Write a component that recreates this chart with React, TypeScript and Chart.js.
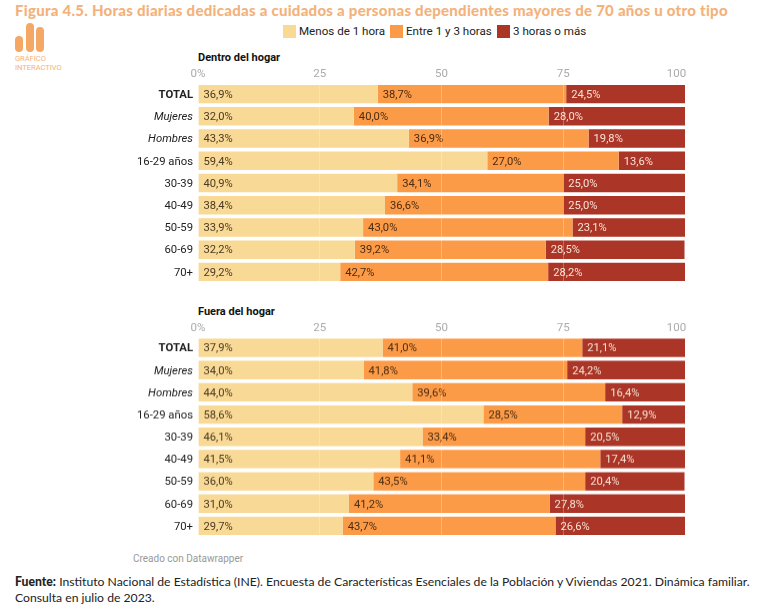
import React, { useEffect, useRef } from "react";
import { Chart, registerables } from "chart.js";

Chart.register(...registerables);

const categories = ["TOTAL", "Mujeres", "Hombres", "16-29 años", "30-39", "40-49", "50-59", "60-69", "70+"];
const seriesNames = ["Menos de 1 hora", "Entre 1 y 3 horas", "3 horas o más"];
const seriesColors = ["#F8D996", "#FB9A47", "#AB3526"];
const labelColors = ["#4a3a22", "#4a2c12", "#f6e3d6"];
const xTicks: Record<number, string> = { 0: "0%", 25: "25", 50: "50", 75: "75", 100: "100" };

const insideLow = [36.9, 32.0, 43.3, 59.4, 40.9, 38.4, 33.9, 32.2, 29.2];
const insideMid = [38.7, 40.0, 36.9, 27.0, 34.1, 36.6, 43.0, 39.2, 42.7];
const insideHigh = [24.5, 28.0, 19.8, 13.6, 25.0, 25.0, 23.1, 28.5, 28.2];

const outsideLow = [37.9, 34.0, 44.0, 58.6, 46.1, 41.5, 36.0, 31.0, 29.7];
const outsideMid = [41.0, 41.8, 39.6, 28.5, 33.4, 41.1, 43.5, 41.2, 43.7];
const outsideHigh = [21.1, 24.2, 16.4, 12.9, 20.5, 17.4, 20.4, 27.8, 26.6];

const FONT = "Roboto";

const barLabels = {
  id: "barLabels",
  afterDatasetsDraw(chart: any) {
    const { ctx } = chart;
    ctx.save();
    ctx.font = `11.2px ${FONT}`;
    ctx.textAlign = "left";
    ctx.textBaseline = "middle";
    chart.data.datasets.forEach((ds: any, i: number) => {
      chart.getDatasetMeta(i).data.forEach((bar: any, j: number) => {
        ctx.fillStyle = labelColors[i];
        ctx.fillText(ds.data[j].toFixed(1).replace(".", ",") + "%", bar.base + 5, bar.y + 1);
      });
    });
    ctx.restore();
  },
};

function Panel({ top, axisHeight, values }: { top: number; axisHeight: number; values: number[][] }) {
  const ref = useRef<HTMLCanvasElement>(null);
  useEffect(() => {
    const chart = new Chart(ref.current!, {
      type: "bar",
      data: {
        labels: categories,
        datasets: values.map((data, i) => ({
          label: seriesNames[i],
          data,
          backgroundColor: seriesColors[i],
          borderWidth: 0,
          barPercentage: 0.83,
          categoryPercentage: 1,
        })),
      },
      options: {
        indexAxis: "y",
        animation: false,
        responsive: false,
        layout: { padding: { left: 0, right: 73, top: 0, bottom: 0 } },
        plugins: { legend: { display: false }, tooltip: { enabled: false } },
        scales: {
          x: {
            position: "top",
            stacked: true,
            min: 0,
            max: 100,
            afterBuildTicks: (s: any) => {
              s.ticks = Object.keys(xTicks).map((v) => ({ value: Number(v) }));
            },
            afterFit: (s: any) => {
              s.height = axisHeight;
              s.paddingLeft = 0;
              s.paddingRight = 0;
            },
            ticks: {
              autoSkip: false,
              maxRotation: 0,
              padding: 1.5,
              color: "#aaaaaa",
              font: { family: FONT, size: 11.5 },
              callback: (v: any) => (v === 100 ? xTicks[v] + "\u00a0\u00a0\u00a0\u00a0\u00a0\u00a0" : xTicks[v]),
            },
            grid: { z: 1, color: "rgba(255,255,255,0.28)", drawTicks: false },
            border: { display: false },
          },
          y: {
            stacked: true,
            afterFit: (s: any) => {
              s.width = 198;
              s.paddingTop = 0;
              s.paddingBottom = 0;
            },
            ticks: {
              padding: 5,
              labelOffset: 1,
              color: "#222222",
              autoSkip: false,
              font: (c: any) => {
                const label = categories[c.index];
                return {
                  family: FONT,
                  size: 11.3,
                  weight: label === "TOTAL" ? "bold" : "normal",
                  style: label === "Mujeres" || label === "Hombres" ? "italic" : "normal",
                };
              },
            },
            grid: { display: false, drawTicks: false },
            border: { display: false },
          },
        },
      },
      plugins: [barLabels],
    } as any);
    return () => chart.destroy();
  }, []);
  return (
    <canvas
      ref={ref}
      width={758}
      height={200 + axisHeight}
      style={{ position: "absolute", left: 0, top, width: 758, height: 200 + axisHeight, display: "block" }}
    />
  );
}

function Text({ x, y, style, children }: any) {
  return (
    <div style={{ position: "absolute", left: x, top: y, whiteSpace: "nowrap", ...style }}>{children}</div>
  );
}

const legendX = [283, 390, 497];
const logoBars = [
  { x: 15, y: 36, w: 8, h: 16 },
  { x: 25.5, y: 23, w: 8, h: 29 },
  { x: 35.5, y: 27, w: 8, h: 25 },
];

export default function App() {
  return (
    <div style={{ position: "absolute", left: 0, top: 0, width: 758, height: 607, background: "#fff", overflow: "hidden" }}>
      <Text x={15} y={0} style={{ font: `900 15px/20px Lato`, color: "#F3B27C", letterSpacing: 0.26 }}>
        Figura 4.5. Horas diarias dedicadas a cuidados a personas dependientes mayores de 70 años u otro tipo
      </Text>
      {logoBars.map((b, i) => (
        <div
          key={i}
          style={{ position: "absolute", left: b.x, top: b.y, width: b.w, height: b.h, background: "#F5A865", borderRadius: 4 }}
        />
      ))}
      <Text x={15} y={54} style={{ font: `7.5px/9px ${FONT}`, color: "#F3B27C" }}>
        GRÁFICO
        <br />
        INTERACTIVO
      </Text>
      {seriesNames.map((n, i) => (
        <React.Fragment key={n}>
          <div style={{ position: "absolute", left: legendX[i], top: 25, width: 13, height: 13, background: seriesColors[i] }} />
          <Text x={legendX[i] + 16} y={23} style={{ font: `11.6px/16px ${FONT}`, color: "#222" }}>
            {n}
          </Text>
        </React.Fragment>
      ))}
      <Text x={198} y={50.5} style={{ font: `bold 11px/14px ${FONT}`, color: "#111" }}>
        Dentro del hogar
      </Text>
      <Panel top={62} axisHeight={21} values={[insideLow, insideMid, insideHigh]} />
      <Text x={198} y={304.5} style={{ font: `bold 11px/14px ${FONT}`, color: "#111" }}>
        Fuera del hogar
      </Text>
      <Panel top={315} axisHeight={21.5} values={[outsideLow, outsideMid, outsideHigh]} />
      <Text x={133} y={552} style={{ font: `10px/14px ${FONT}`, color: "#999" }}>
        Creado con Datawrapper
      </Text>
      <Text x={15} y={574} style={{ font: `12.2px/16px Lato`, color: "#222", whiteSpace: "normal", width: 742 }}>
        <b style={{ fontWeight: 900 }}>Fuente:</b> Instituto Nacional de Estadística (INE). Encuesta de Características Esenciales de la Población y Viviendas 2021. Dinámica familiar. Consulta en julio de 2023.
      </Text>
    </div>
  );
}
